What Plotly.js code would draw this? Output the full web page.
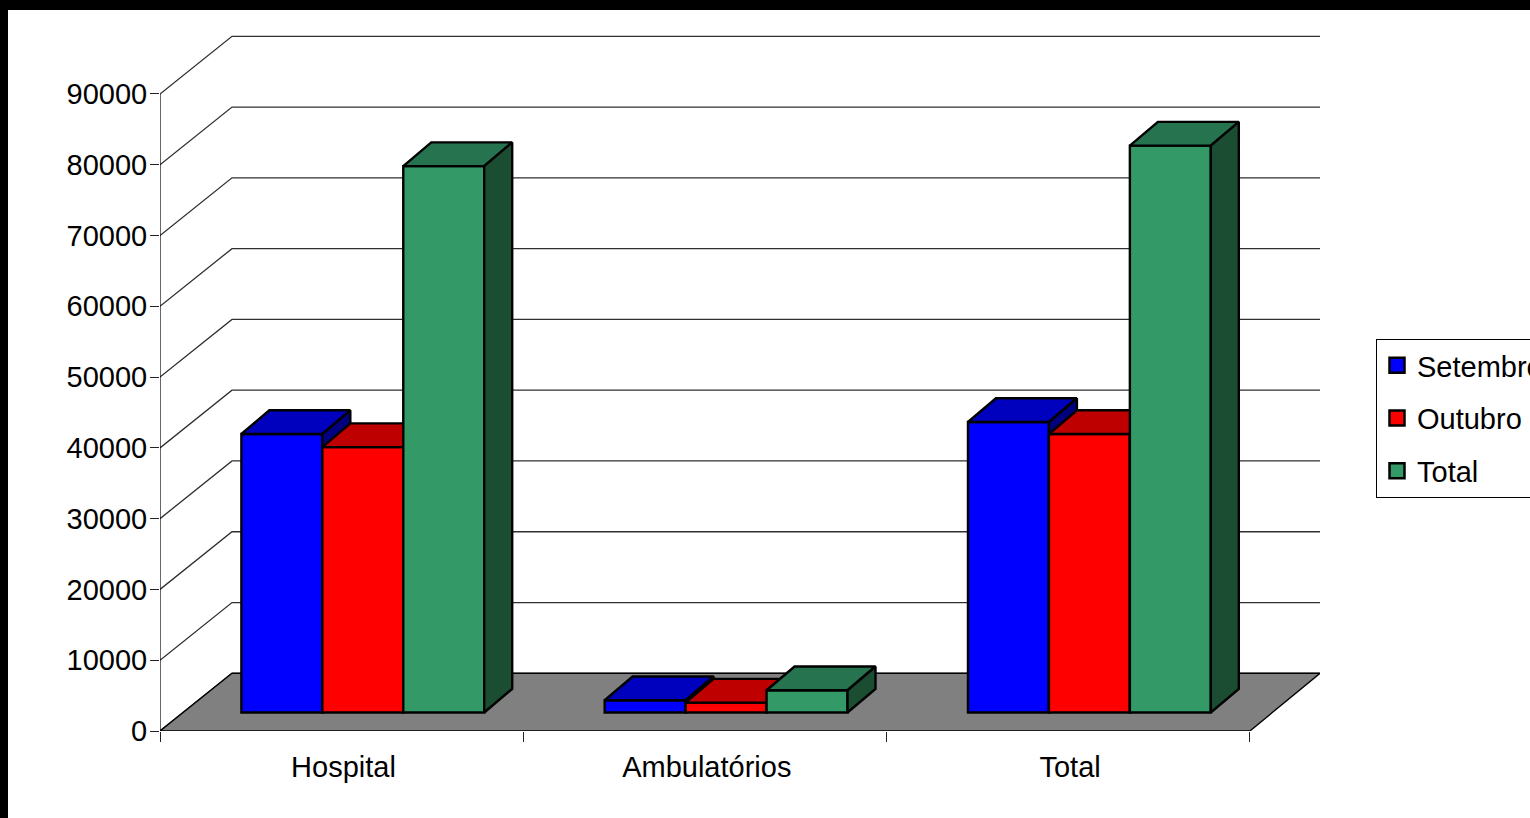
<!DOCTYPE html>
<html>
<head>
<meta charset="utf-8">
<script src="https://cdn.plot.ly/plotly-3.0.1.min.js"></script>
<style>
html,body{margin:0;padding:0;background:#000;width:1530px;height:818px;overflow:hidden}
#g{position:absolute;left:8px;top:10px;width:1522px;height:808px;background:#fff}
</style>
</head>
<body>
<div id="g"></div>
<script>
const categories = ['Hospital', 'Ambulatórios', 'Total'];
const setembro = [39350, 1740, 41050];
const outubro = [37500, 1400, 39350];
const totalSeries = [77200, 3150, 80100];
const yTicks = [0, 10000, 20000, 30000, 40000, 50000, 60000, 70000, 80000, 90000];

const seriesNames = ['Setembro', 'Outubro', 'Total'];
const frontColors = ['#0000ff', '#ff0000', '#339966'];
const topColors = ['#0000bf', '#bf0000', '#267350'];
const sideColors = ['#000080', '#800000', '#1b4d33'];
const seriesValues = [setembro, outubro, totalSeries];

// chart geometry in axis units
const FONT = 'Liberation Sans, Arial, sans-serif';
const xMax = 1160 / 363.3, yMax = 100452;
const wallDx = 72 / 363.3, wallDy = 8150;      // depth of the floor
const barBase = 2610, barW = 0.2228, barGap = 0.224; // bar placement
const barDx = 28 / 363.3, barDy = 3350;        // depth of one bar

const traces = [];
// back wall grid
const gx = [], gy = [];
yTicks.forEach(v => { gx.push(0, wallDx, xMax, null); gy.push(v, v + wallDy, v + wallDy, null); });
traces.push({type:'scatter', mode:'lines', x:gx, y:gy, cliponaxis:false, showlegend:false, hoverinfo:'skip',
  line:{color:'#303030', width:1.3}});
// floor
traces.push({type:'scatter', mode:'lines', x:[0, 3, xMax, wallDx, 0], y:[0, 0, wallDy, wallDy, 0], fill:'toself',
  fillcolor:'#808080', cliponaxis:false, showlegend:false, hoverinfo:'skip', line:{color:'#000', width:1.4}});
// value axis line
traces.push({type:'scatter', mode:'lines', x:[0, 0], y:[0, yTicks[yTicks.length - 1]], cliponaxis:false,
  showlegend:false, hoverinfo:'skip', line:{color:'#000', width:1.2}});

seriesValues.forEach((vals, s) => {
  const xa = 'x' + (s + 2), ya = 'y' + (s + 2);
  const left = categories.map((c, i) => i + barGap + s * barW);
  // front faces
  traces.push({type:'bar', xaxis:xa, yaxis:ya, name:seriesNames[s], x:left.map(l => l + barW / 2), y:vals, base:barBase,
    width:barW, showlegend:false, hoverinfo:'skip', marker:{color:frontColors[s], line:{color:'#000', width:2.4}}});
  vals.forEach((v, i) => {
    const x0 = left[i], x1 = x0 + barW, t = v + barBase;
    // top face
    traces.push({type:'scatter', mode:'lines', xaxis:xa, yaxis:ya, x:[x0, x1, x1 + barDx, x0 + barDx, x0],
      y:[t, t, t + barDy, t + barDy, t], fill:'toself', fillcolor:topColors[s], showlegend:false, hoverinfo:'skip',
      line:{color:'#000', width:2.4}});
    // side face
    traces.push({type:'scatter', mode:'lines', xaxis:xa, yaxis:ya, x:[x1, x1 + barDx, x1 + barDx, x1, x1],
      y:[barBase, barBase + barDy, t + barDy, t, barBase], fill:'toself', fillcolor:sideColors[s], showlegend:false,
      hoverinfo:'skip', line:{color:'#000', width:2.4}});
  });
  // legend entry
  traces.push({type:'scatter', mode:'markers', xaxis:xa, yaxis:ya, name:seriesNames[s], x:[null], y:[null],
    legendgroup:'g' + s, hoverinfo:'skip',
    marker:{symbol:'square', size:15, color:frontColors[s], line:{color:'#000', width:2.5}}});
});

const hiddenX = {range:[0, xMax], overlaying:'x', visible:false, fixedrange:true};
const hiddenY = {range:[0, yMax], overlaying:'y', visible:false, fixedrange:true};

const layout = {
  width:1522, height:808, paper_bgcolor:'#fff', plot_bgcolor:'rgba(0,0,0,0)',
  margin:{l:152, r:210, t:10, b:87, pad:0, autoexpand:false},
  barmode:'overlay', hovermode:false,
  font:{family:FONT, size:29, color:'#000'},
  xaxis:{range:[0, xMax], fixedrange:true, showgrid:false, zeroline:false, showline:false,
    tickmode:'array', tickvals:categories.map((c, i) => i + 0.505), ticktext:categories, ticks:'', ticklabelstandoff:16,
    minor:{tickmode:'array', tickvals:[0, 1, 2, 3], ticks:'outside', ticklen:10, tickwidth:1, tickcolor:'#222', showgrid:false},
    tickfont:{family:FONT, size:29, color:'#000'}},
  yaxis:{range:[0, yMax], fixedrange:true, showgrid:false, zeroline:false, showline:false,
    tickmode:'array', tickvals:yTicks, ticktext:yTicks.map(String), ticks:'outside', ticklen:9, tickwidth:1, tickcolor:'#222',
    ticklabelstandoff:-3, tickfont:{family:FONT, size:29, color:'#000'}},
  xaxis2:hiddenX, yaxis2:hiddenY, xaxis3:hiddenX, yaxis3:hiddenY, xaxis4:hiddenX, yaxis4:hiddenY,
  legend:{xref:'container', yref:'container', x:(1376 - 8) / 1522, y:1 - (339 - 10) / 808, xanchor:'left', yanchor:'top',
    bgcolor:'#fff', bordercolor:'#000', borderwidth:1, traceorder:'grouped', tracegroupgap:12, itemwidth:30,
    font:{family:FONT, size:29, color:'#000'}}
};
Plotly.newPlot('g', traces, layout, {displayModeBar:false, staticPlot:true});
</script>
</body>
</html>
